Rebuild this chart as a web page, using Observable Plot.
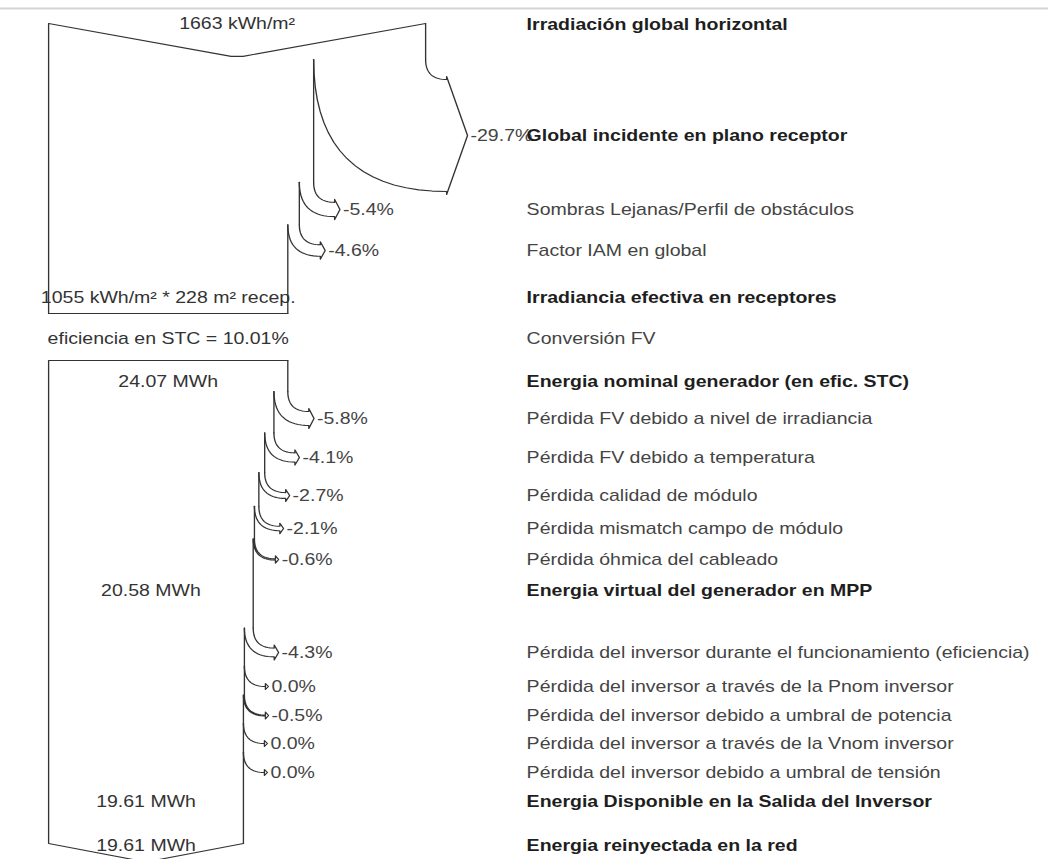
<!DOCTYPE html>
<html><head><meta charset="utf-8">
<script src="https://cdn.jsdelivr.net/npm/d3@7"></script>
<script src="https://cdn.jsdelivr.net/npm/@observablehq/plot@0.6"></script>
<style>
html,body{margin:0;padding:0;background:#fff;}
#chart svg{display:block;}
</style></head><body><div id="chart"></div>
<script>
// ---------------- data ----------------
const rowLabels = [
  "Irradiación global horizontal",
  "Global incidente en plano receptor",
  "Sombras Lejanas/Perfil de obstáculos",
  "Factor IAM en global",
  "Irradiancia efectiva en receptores",
  "Conversión FV",
  "Energia nominal generador (en efic. STC)",
  "Pérdida FV debido a nivel de irradiancia",
  "Pérdida FV debido a temperatura",
  "Pérdida calidad de módulo",
  "Pérdida mismatch campo de módulo",
  "Pérdida óhmica del cableado",
  "Energia virtual del generador en MPP",
  "Pérdida del inversor durante el funcionamiento (eficiencia)",
  "Pérdida del inversor a través de la Pnom inversor",
  "Pérdida del inversor debido a umbral de potencia",
  "Pérdida del inversor a través de la Vnom inversor",
  "Pérdida del inversor debido a umbral de tensión",
  "Energia Disponible en la Salida del Inversor",
  "Energia reinyectada en la red"
];
const rowKinds = ["total","total","loss","loss","total","step","total",
  "loss","loss","loss","loss","loss","total",
  "loss","loss","loss","loss","loss","total","total"];
const lossPct = [null, -29.7, -5.4, -4.6, null, null, null,
  -5.8, -4.1, -2.7, -2.1, -0.6, null,
  -4.3, 0.0, -0.5, 0.0, 0.0, null, null];
const flowTexts = ["1663 kWh/m²", null, null, null, "1055 kWh/m² * 228 m² recep.",
  "eficiencia en STC = 10.01%", "24.07 MWh", null, null, null, null, null, "20.58 MWh",
  null, null, null, null, null, "19.61 MWh", "19.61 MWh"];
const ghi = 1663; // kWh/m², width reference of the flow

// ---------------- layout ----------------
const W = 1048, H = 859, SX = 1.22;
const X0 = 48, X1 = 425;            // pixel x of zero flow and of full GHI flow
const LABEL_PX = 526;
const rowY = [24,135,209,250,297,338,381,418,457,495,528,559,590,652,686,715,743,772,801,845];
const TOP_Y = 23, BOX1_BOTTOM = 313, BOX2_TOP = 360, BOTTOM_Y = 843, TOP_RULE_Y = 8;
const SECTION1 = [0,1,2,3,4], SECTION2 = [6,7,8,9,10,11,12,13,14,15,16,17,18,19];

const pxPerV = (X1 - X0) / ghi;
const pxToV = p => p / pxPerV;

// flow before / after each row
const before = [], after = [];
let cur = ghi;
rowLabels.forEach((_, i) => {
  before[i] = cur;
  if (lossPct[i] != null) cur = cur * (1 + lossPct[i] / 100);
  after[i] = cur;
});

// ---------------- geometry ----------------
const pts = [];
let pid = 0;
function path(points) { const id = pid++; points.forEach(([x, y]) => pts.push({id, x, y})); }
function quad(p0, c, p1, n = 18) {
  const out = [];
  for (let k = 0; k <= n; k++) {
    const t = k / n, u = 1 - t;
    out.push([u*u*p0[0] + 2*u*t*c[0] + t*t*p1[0], u*u*p0[1] + 2*u*t*c[1] + t*t*p1[1]]);
  }
  return out;
}
const arrows = [];
function lossStart(i) {
  const wpx = (before[i] - after[i]) * pxPerV;
  return rowY[i] - wpx / 2 - 20;
}
function lossArrow(i) {
  const vb = before[i], va = after[i];
  const wpx = (vb - va) * pxPerV;
  const yTop = rowY[i] - wpx / 2, yBot = rowY[i] + wpx / 2;
  const ys = lossStart(i);
  const xe = vb + pxToV(21);
  const tip = xe + pxToV(3 + wpx * 0.16);
  const hk = 3;
  path([...quad([vb, ys], [vb, yTop], [xe, yTop]),
        [xe, yTop - hk], [tip, rowY[i]], [xe, yBot + hk],
        ...quad([xe, yBot], [va, yBot], [va, ys])]);
  arrows.push({x: tip + pxToV(3), y: rowY[i], text: lossPct[i] === 0 ? "0.0%" : lossPct[i].toFixed(1) + "%"});
}
function rightEdge(rows, startV, startY, endY) {
  let v = startV, y = startY;
  rows.forEach(i => {
    if (lossPct[i] != null) {
      const ys = lossStart(i);
      path([[v, y], [v, ys]]);
      lossArrow(i);
      v = after[i]; y = ys;
    }
  });
  path([[v, y], [v, endY]]);
  return v;
}

// top section
const dip = (ghi / 2 * pxPerV - 6) * 0.18;
path([[0, TOP_Y], [ghi/2 - pxToV(6), TOP_Y + dip], [ghi/2 + pxToV(6), TOP_Y + dip], [ghi, TOP_Y]]);
const v1 = rightEdge(SECTION1, ghi, TOP_Y, BOX1_BOTTOM);
path([[0, TOP_Y], [0, BOX1_BOTTOM], [v1, BOX1_BOTTOM]]);

// bottom section
const v2start = before[6];
const vEnd = after[19];
rightEdge(SECTION2, v2start, BOX2_TOP, BOTTOM_Y);
const dipB = (vEnd / 2 * pxPerV) * 0.19;
path([[v2start, BOX2_TOP], [0, BOX2_TOP], [0, BOTTOM_Y], [vEnd / 2, BOTTOM_Y + dipB], [vEnd, BOTTOM_Y]]);

// ---------------- text tables ----------------
const labelV = pxToV(LABEL_PX - X0);
const rows = rowLabels.map((label, i) => ({label, kind: rowKinds[i], y: rowY[i], x: labelV}));
const flowRows = flowTexts.map((t, i) => t == null ? null : ({text: t, x: before[i] / 2, y: rowY[i] - (i === 0 ? 1 : 0)})).filter(d => d);

const plot = Plot.plot({
  width: Math.round(W / SX), height: H,
  marginTop: 0, marginRight: 0, marginBottom: 0, marginLeft: 0,
  x: {type: "linear", domain: [0, ghi], range: [X0 / SX, X1 / SX], axis: null},
  y: {type: "linear", domain: [0, H], range: [0, H], axis: null},
  style: {fontFamily: "'Liberation Sans', Arial, sans-serif", fontSize: "16px", background: "#fff"},
  marks: [
    Plot.ruleY([TOP_RULE_Y], {stroke: "#d4d4d4", strokeWidth: 2}),
    Plot.line(pts, {x: "x", y: "y", z: "id", stroke: "#333", strokeWidth: 1.1, curve: "linear"}),
    Plot.text(arrows, {x: "x", y: "y", text: "text", textAnchor: "start", fill: "#444", fontSize: 16}),
    Plot.text(flowRows, {x: "x", y: "y", text: "text", textAnchor: "middle", fill: "#333", fontSize: 16}),
    Plot.text(rows.filter(d => d.kind !== "total"), {x: "x", y: "y", text: "label", textAnchor: "start", fill: "#444", fontSize: 16}),
    Plot.text(rows.filter(d => d.kind === "total"), {x: "x", y: "y", text: "label", textAnchor: "start", fill: "#1e1e1e", fontSize: 16, fontWeight: "bold"})
  ]
});
plot.setAttribute("width", W);
plot.setAttribute("height", H);
plot.setAttribute("preserveAspectRatio", "none");
plot.style.maxWidth = "none";
plot.style.width = W + "px";
plot.style.height = H + "px";
document.getElementById("chart").appendChild(plot);
</script>
</body></html>
